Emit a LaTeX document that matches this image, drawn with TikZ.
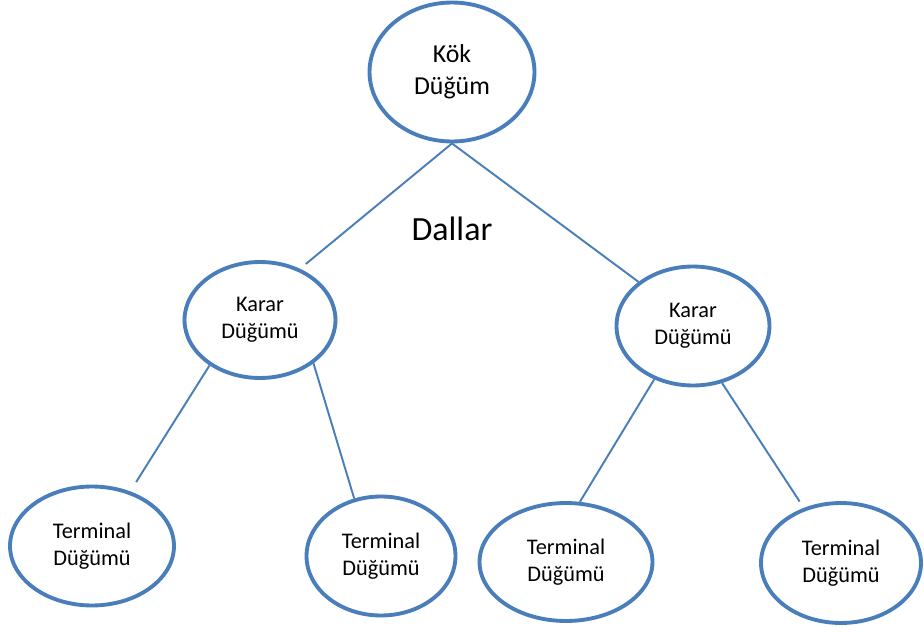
\documentclass[tikz,border=0pt]{standalone}
\usepackage{fontspec}
\setmainfont{Carlito}
\usepackage{xcolor}
\usetikzlibrary{shapes.geometric, positioning}

\definecolor{nodeblue}{RGB}{74,126,187}

\begin{document}
\begin{tikzpicture}[x=0.02cm, y=-0.02cm,
    dugum/.style={draw=nodeblue, ellipse, line width=2.2pt, inner sep=0pt,
        align=center, font=\fontsize{12.7}{15.3}\selectfont},
    dal/.style={draw=nodeblue, line width=1.1pt}]
                    \useasboundingbox (0,0) rectangle (924,632);
                    % root and decision nodes
                    \node[dugum, minimum width=3.30cm, minimum height=2.78cm,
                          font=\fontsize{14.7}{18.1}\selectfont] (kok) at (452,72) {Kök\\Düğüm};
                    \node[dugum, minimum width=3.02cm, minimum height=2.32cm] (kararsol) at (260,320) {Karar\\Düğümü};
                    \node[dugum, minimum width=3.06cm, minimum height=2.38cm] (kararsag) at (693,326) {Karar\\Düğümü};
                    % terminal nodes
                    \node[dugum, minimum width=3.28cm, minimum height=2.38cm] (term1) at (92,546) {Terminal\\Düğümü};
                    \node[dugum, minimum width=2.98cm, minimum height=2.38cm] (term2) at (381,556) {Terminal\\Düğümü};
                    \node[dugum, minimum width=3.46cm, minimum height=2.36cm] (term3) at (566,562) {Terminal\\Düğümü};
                    \node[dugum, minimum width=3.20cm, minimum height=2.40cm] (term4) at (841,563) {Terminal\\Düğümü};
                    \node[font=\fontsize{19.3}{23}\selectfont] (dallar) at (452,229) {Dallar};
                    % branches
                    \draw[dal, shorten >=0.15cm] (kok.south) -- (kararsol.52);
                    \draw[dal] (kok.south) -- (kararsag.141);
                    \draw[dal, shorten >=0.22cm] (kararsol.222) -- (term1.55);
                    \draw[dal] (kararsol.321) -- (term2.115);
                    \draw[dal] (kararsag.234) -- (term3.77);
                    \draw[dal, shorten >=0.15cm] (kararsag.297) -- (term4.124);
                \end{tikzpicture}
\end{document}
